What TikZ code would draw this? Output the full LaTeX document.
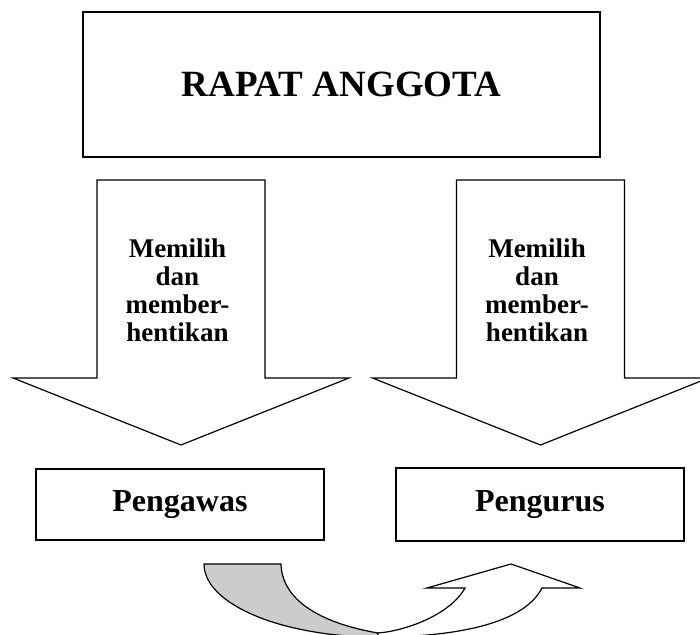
\documentclass[tikz,border=0pt]{standalone}
\usepackage{fontspec}
\setmainfont{Liberation Serif}
\usepackage{tikz}

\tikzset{
    box/.style={draw, line width=0.6pt, inner sep=0pt},
    blockarrow/.style={draw, line width=0.6pt, fill=white},
    arrowtext/.style={align=center, font=\fontsize{13.5}{14}\selectfont\bfseries}
}

\begin{document}
\begin{tikzpicture}[x=0.5pt, y=0.5pt]
        \clip (0,0) rectangle (700,635);

        % Rapat anggota
        \node[box, minimum width=258.5pt, minimum height=72.5pt, font=\fontsize{18.5}{22}\selectfont\bfseries] (rapat) at (341.5,550.5) {RAPAT ANGGOTA};

        % Block arrows
        \foreach \c/\name in {181/memilihpengawas, 540.5/memilihpengurus} {
            \draw[blockarrow] ({\c-84},455) -- ({\c+84},455) -- ({\c+84},257) -- ({\c+168},257) -- (\c,190) -- ({\c-168},257) -- ({\c-84},257) -- cycle;
            \node[arrowtext] (\name) at ({\c-3.5},345) {Memilih\\dan\\member-\\hentikan};
        }

        % Pengawas and Pengurus
        \node[box, minimum width=144pt, minimum height=35.5pt, font=\fontsize{16}{19}\selectfont\bfseries] (pengawas) at (180,130.5) {Pengawas};
        \node[box, minimum width=144pt, minimum height=36.5pt, font=\fontsize{16}{19}\selectfont\bfseries] (pengurus) at (540,130.5) {Pengurus};

        % Curved arrow
        \draw[line width=0.6pt, fill=black!20] (204,71) -- (281,71) .. controls (282,35) and (320,12) .. (378,2) -- (378,-2) arc[start angle=270, end angle=180, x radius=174, y radius=73] -- cycle;
        \draw[line width=0.6pt, fill=white] (378,2) .. controls (405,4) and (450,20) .. (465,47) -- (427,47) -- (511,71) -- (580,47) -- (542,47) .. controls (522,8) and (445,-2) .. (378,-2) -- cycle;
    \end{tikzpicture}
\end{document}
